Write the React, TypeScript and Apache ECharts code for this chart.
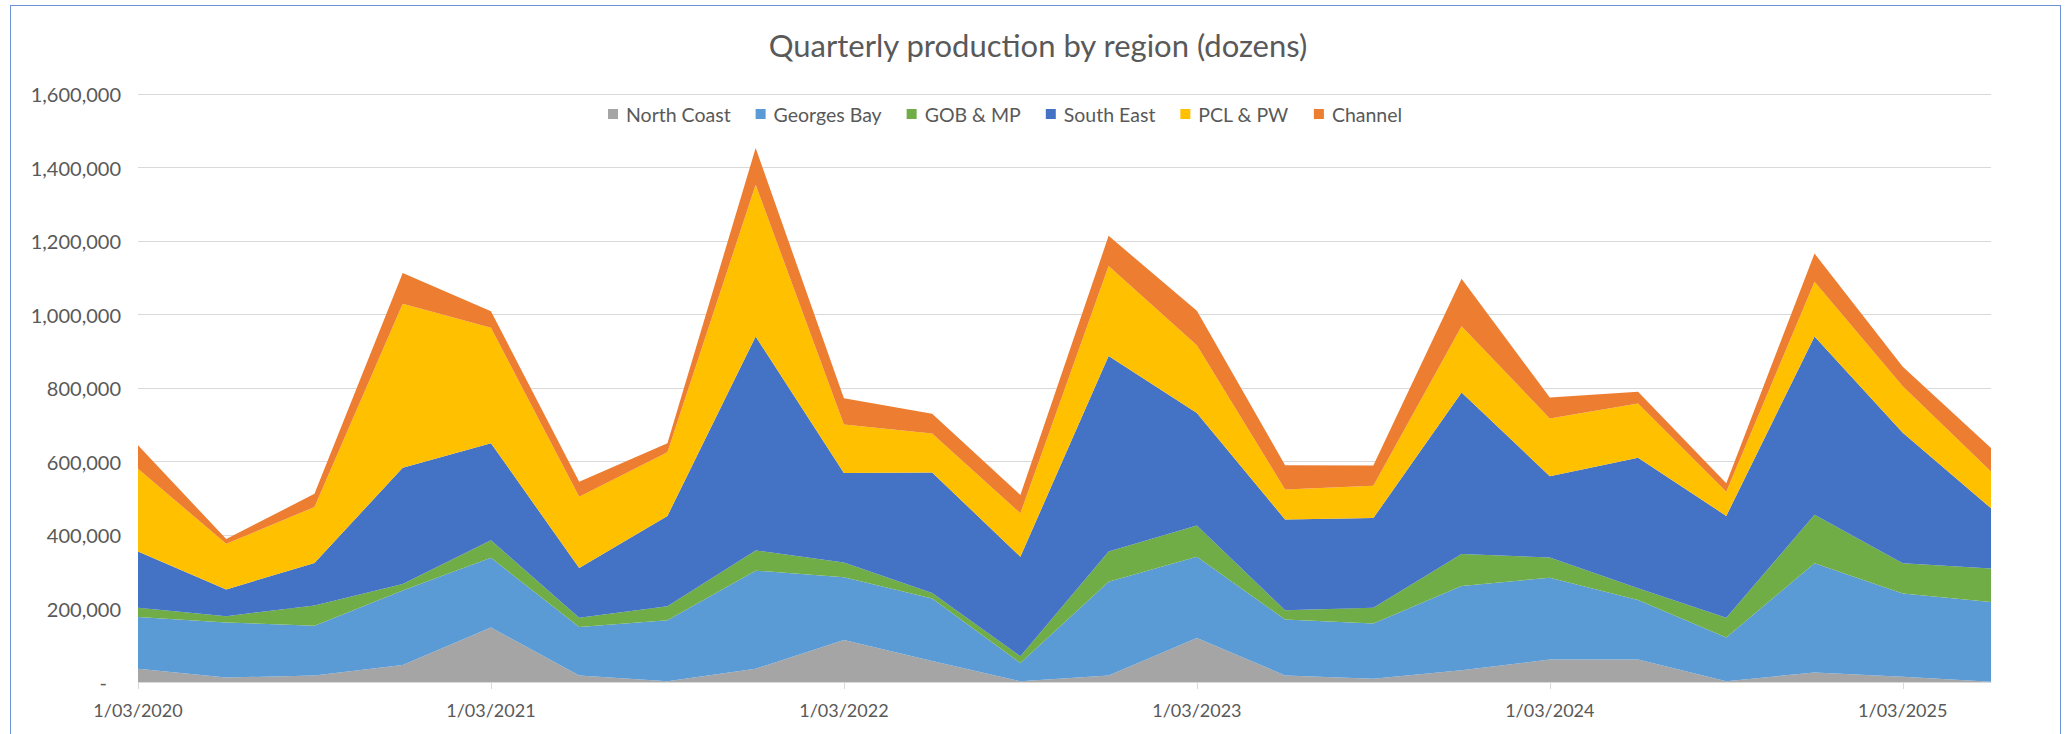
import React, { useEffect, useRef } from "react";
import * as echarts from "echarts";

const categories = [
  "1/03/2020", "1/06/2020", "1/09/2020", "1/12/2020",
  "1/03/2021", "1/06/2021", "1/09/2021", "1/12/2021",
  "1/03/2022", "1/06/2022", "1/09/2022", "1/12/2022",
  "1/03/2023", "1/06/2023", "1/09/2023", "1/12/2023",
  "1/03/2024", "1/06/2024", "1/09/2024", "1/12/2024",
  "1/03/2025", "1/06/2025",
];

const northCoast = [36000, 12000, 18000, 46000, 148000, 18000, 2000, 36000, 114000, 57000, 2000, 18000, 120000, 18000, 9000, 32000, 61000, 61000, 2000, 26000, 14000, 1000];
const georgesBay = [141000, 150000, 135000, 203000, 190000, 132000, 166000, 267000, 171000, 170000, 50000, 255000, 221000, 152000, 150000, 229000, 223000, 162000, 119000, 297000, 227000, 217000];
const gobMp = [25000, 17000, 55000, 18000, 48000, 25000, 38000, 55000, 40000, 15000, 18000, 82000, 85000, 25000, 43000, 87000, 55000, 32000, 54000, 132000, 82000, 91000];
const southEast = [153000, 73000, 116000, 316000, 264000, 135000, 246000, 582000, 244000, 328000, 271000, 532000, 306000, 247000, 244000, 440000, 221000, 355000, 277000, 485000, 355000, 164000];
const pclPw = [225000, 124000, 152000, 446000, 314000, 194000, 173000, 413000, 132000, 106000, 118000, 245000, 184000, 82000, 88000, 180000, 157000, 148000, 66000, 149000, 127000, 100000];
const channel = [64000, 13000, 36000, 84000, 45000, 41000, 25000, 100000, 71000, 54000, 50000, 82000, 94000, 66000, 55000, 129000, 57000, 32000, 23000, 77000, 53000, 64000];

const seriesNames = ["North Coast", "Georges Bay", "GOB & MP", "South East", "PCL & PW", "Channel"];
const seriesColors = ["#A5A5A5", "#5B9BD5", "#70AD47", "#4472C4", "#FFC000", "#ED7D31"];
const seriesData = [northCoast, georgesBay, gobMp, southEast, pclPw, channel];

const FONT = "Lato, 'Open Sans', sans-serif";
const TEXT = "#595959";

export default function App() {
  const ref = useRef<HTMLDivElement>(null);
  useEffect(() => {
    if (!ref.current) return;
    const chart = echarts.init(ref.current, null, { renderer: "svg" });
    chart.setOption({
      animation: false,
      backgroundColor: "#ffffff",
      title: {
        text: "Quarterly production by region (dozens)",
        left: 1033,
        top: 24,
        textAlign: "center",
        textStyle: { fontFamily: FONT, fontSize: 31, fontWeight: "normal", color: TEXT },
      },
      legend: {
        data: seriesNames,
        left: 603,
        top: 99,
        icon: "rect",
        itemWidth: 10,
        itemHeight: 10,
        itemGap: 25,
        textStyle: { fontFamily: FONT, fontSize: 19.5, color: TEXT, padding: [0, 0, 0, 3] },
      },
      grid: { left: 138, right: 78, top: 94, bottom: 52, containLabel: false },
      xAxis: {
        type: "category",
        data: categories,
        boundaryGap: false,
        axisLine: { lineStyle: { color: "#D9D9D9", width: 1 } },
        axisTick: { show: true, interval: 3, length: 7, lineStyle: { color: "#D9D9D9" } },
        axisLabel: { interval: 3, margin: 19, fontFamily: FONT, fontSize: 18, color: TEXT },
        splitLine: { show: false },
      },
      yAxis: {
        type: "value",
        min: 0,
        max: 1600000,
        interval: 200000,
        axisLine: { show: false },
        axisTick: { show: false },
        axisLabel: {
          margin: 17,
          fontFamily: FONT,
          fontSize: 20,
          color: TEXT,
          formatter: (v: number) => (v === 0 ? "{d|-}" : v.toLocaleString("en-US")),
          rich: { d: { fontFamily: FONT, fontSize: 20, color: TEXT, padding: [0, 14, 0, 0] } },
        },
        splitLine: { lineStyle: { color: "#D9D9D9", width: 1 } },
      },
      series: seriesNames.map((name, i) => ({
        name,
        type: "line",
        stack: "total",
        data: seriesData[i],
        symbol: "none",
        lineStyle: { width: 0 },
        areaStyle: { color: seriesColors[i], opacity: 1 },
        itemStyle: { color: seriesColors[i] },
        emphasis: { disabled: true },
      })),
    });
    return () => chart.dispose();
  }, []);

  return (
    <div style={{ position: "absolute", left: 0, top: 0, width: 2069, height: 734, background: "#fff", overflow: "hidden" }}>
      <div ref={ref} style={{ position: "absolute", left: 0, top: 0, width: 2069, height: 734 }} />
      <div
        style={{
          position: "absolute",
          left: 10,
          top: 5,
          width: 2051,
          height: 760,
          border: "1px solid #6F93D6",
          boxSizing: "border-box",
          pointerEvents: "none",
        }}
      />
    </div>
  );
}
